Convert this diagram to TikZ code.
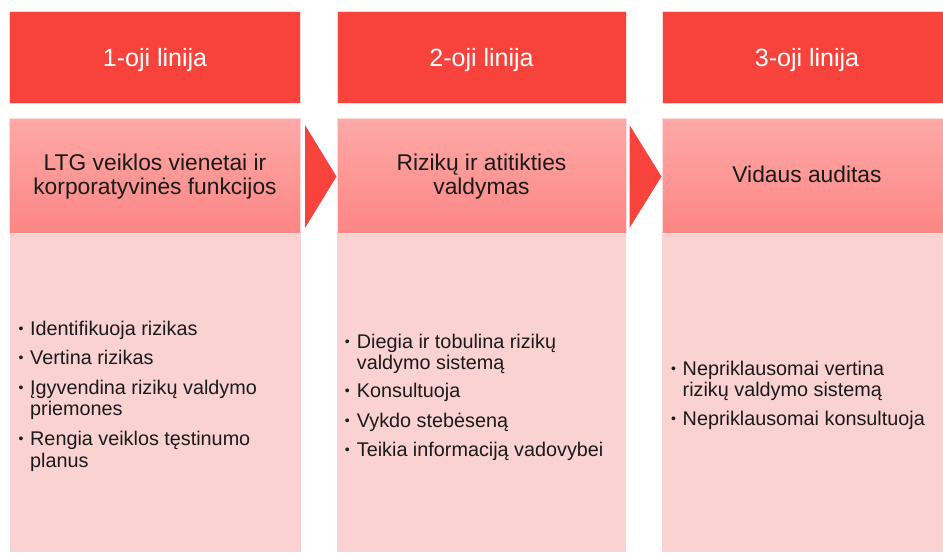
\documentclass[tikz,border=0pt]{standalone}
\usepackage{fontspec}
\setmainfont{Liberation Sans}
\definecolor{hdred}{HTML}{F8433C}
\definecolor{subtop}{HTML}{FDA9A7}
\definecolor{subbot}{HTML}{FC8684}
\definecolor{bodyfill}{HTML}{FBD2D2}
\definecolor{txtcol}{HTML}{1A1A1A}
\definecolor{edgecol}{HTML}{FDD9D7}
\newcommand{\hdfont}{\fontsize{25}{30}\selectfont}
\newcommand{\subfont}{\fontsize{22.8}{24}\selectfont}
\newcommand{\bodyfont}{\fontsize{19.8}{21.5}\selectfont}
\newcommand{\dotfont}{\fontsize{14}{16}\selectfont}
\tikzset{
  hdbox/.style={fill=hdred, draw=edgecol, line width=0.5pt},
  subbox/.style={top color=subtop, bottom color=subbot, draw=edgecol, line width=0.5pt},
  hdtxt/.style={anchor=base, inner sep=0pt, font=\hdfont, text=white},
  subtxt/.style={anchor=base, inner sep=0pt, font=\subfont, text=txtcol},
  bline/.style={anchor=base west, inner sep=0pt, font=\bodyfont, text=txtcol},
  bdot/.style={anchor=base, inner sep=0pt, font=\dotfont, text=txtcol, yshift=2pt},
  chevron/.style={fill=hdred, draw=none}
}
\begin{document}
\begin{tikzpicture}[x=1pt,y=-1pt]
\useasboundingbox (0,0) rectangle (943,552);
% column boxes
\fill[bodyfill] (9.5,233.5) rectangle (300.5,552);
\fill[bodyfill] (337,233.5) rectangle (626,552);
\fill[bodyfill] (662,233.5) rectangle (943,552);
\path[subbox] (9.5,118.5) rectangle (300.5,233.5);
\path[subbox] (337,118.5) rectangle (626,233.5);
\path[subbox] (662,118.5) rectangle (945,233.5);
\path[hdbox] (9.5,11.5) rectangle (300.5,103);
\path[hdbox] (337,11.5) rectangle (626,103);
\path[hdbox] (662,11.5) rectangle (945,103);
% chevrons
\fill[chevron] (305,125) -- (336.5,176.5) -- (305,228) -- cycle;
\fill[chevron] (629.5,125) -- (661.5,176.5) -- (629.5,228) -- cycle;
% header texts
\node[hdtxt] (h1) at (155,66.7) {1-oji linija};
\node[hdtxt] (h2) at (481.5,66.7) {2-oji linija};
\node[hdtxt] (h3) at (807,66.7) {3-oji linija};
% sub headers
\node[subtxt] (s1a) at (155,170.5) {LTG veiklos vienetai ir};
\node[subtxt] (s1b) at (155,194.5) {korporatyvinės funkcijos};
\node[subtxt] (s2a) at (481.5,170.5) {Rizikų ir atitikties};
\node[subtxt] (s2b) at (481.5,194.5) {valdymas};
\node[subtxt] (s3a) at (807,182) {Vidaus auditas};
% column 1
\node[bdot] (d11) at (21,335.5) {•};
\node[bline] (t11) at (30,335.5) {Identifikuoja rizikas};
\node[bdot] (d12) at (21,364.5) {•};
\node[bline] (t12) at (30,364.5) {Vertina rizikas};
\node[bdot] (d13) at (21,394) {•};
\node[bline] (t13) at (30,394) {Įgyvendina rizikų valdymo};
\node[bline] (t13b) at (30,415.5) {priemones};
\node[bdot] (d14) at (21,445.5) {•};
\node[bline] (t14) at (30,445.5) {Rengia veiklos tęstinumo};
\node[bline] (t14b) at (30,467) {planus};
% column 2
\node[bdot] (d21) at (347.3,348) {•};
\node[bline] (t21) at (356.7,348) {Diegia ir tobulina rizikų};
\node[bline] (t21b) at (356.7,369.5) {valdymo sistemą};
\node[bdot] (d22) at (347.3,397.5) {•};
\node[bline] (t22) at (356.7,397.5) {Konsultuoja};
\node[bdot] (d23) at (347.3,427) {•};
\node[bline] (t23) at (356.7,427) {Vykdo stebėseną};
\node[bdot] (d24) at (347.3,456) {•};
\node[bline] (t24) at (356.7,456) {Teikia informaciją vadovybei};
% column 3
\node[bdot] (d31) at (673.5,375) {•};
\node[bline] (t31) at (682.5,375) {Nepriklausomai vertina};
\node[bline] (t31b) at (682.5,396.5) {rizikų valdymo sistemą};
\node[bdot] (d32) at (673.5,425) {•};
\node[bline] (t32) at (682.5,425) {Nepriklausomai konsultuoja};
\end{tikzpicture}
\end{document}
